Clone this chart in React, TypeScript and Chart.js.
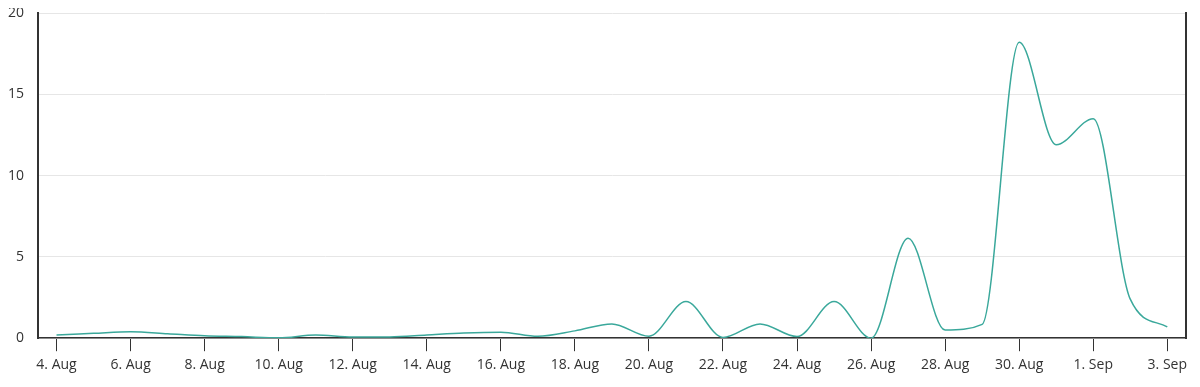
import React, { useEffect, useRef } from "react";
import { Chart, registerables } from "chart.js";

Chart.register(...registerables);

const categories = [
  "4. Aug", "5. Aug", "6. Aug", "7. Aug", "8. Aug", "9. Aug", "10. Aug", "11. Aug",
  "12. Aug", "13. Aug", "14. Aug", "15. Aug", "16. Aug", "17. Aug", "18. Aug", "19. Aug",
  "20. Aug", "21. Aug", "22. Aug", "23. Aug", "24. Aug", "25. Aug", "26. Aug", "27. Aug",
  "28. Aug", "29. Aug", "30. Aug", "31. Aug", "1. Sep", "2. Sep", "3. Sep",
];

const values = [
  0.2, 0.3, 0.4, 0.28, 0.15, 0.1, 0.02, 0.2,
  0.08, 0.08, 0.2, 0.32, 0.37, 0.12, 0.45, 0.88,
  0.12, 2.25, 0.05, 0.88, 0.1, 2.25, 0.0, 6.15,
  0.5, 0.85, 18.2, 11.9, 13.5, 2.4, 0.7,
];

const yTicks = [0, 5, 10, 15, 20];

const FONT = "'Open Sans', sans-serif";

export default function App() {
  const ref = useRef<HTMLCanvasElement | null>(null);

  useEffect(() => {
    if (!ref.current) return;
    const chart = new Chart(ref.current, {
      type: "line",
      data: {
        labels: categories,
        datasets: [
          {
            data: values,
            borderColor: "#3aa89b",
            borderWidth: 1.5,
            pointRadius: 0,
            cubicInterpolationMode: "monotone",
            fill: false,
          },
        ],
      },
      options: {
        animation: false,
        responsive: true,
        maintainAspectRatio: false,
        layout: { padding: { top: 0, right: 0, left: 0, bottom: 0 } },
        plugins: { legend: { display: false }, tooltip: { enabled: false } },
        scales: {
          x: {
            type: "category",
            offset: true,
            grid: {
              offset: false,
              drawOnChartArea: false,
              drawTicks: true,
              tickLength: 13,
              tickColor: (ctx: any) => (ctx.index % 2 === 0 ? "#333333" : "rgba(0,0,0,0)"),
            },
            border: { color: "#333333", width: 1.5 },
            ticks: {
              autoSkip: false,
              maxRotation: 0,
              color: "#333333",
              font: { family: FONT, size: 14 },
              padding: 5,
              callback: (_v: any, i: number) => (i % 2 === 0 ? categories[i] : ""),
            },
          },
          y: {
            min: 0,
            max: 20,
            afterBuildTicks: (axis: any) => {
              axis.ticks = yTicks.map((v) => ({ value: v }));
            },
            afterFit: (axis: any) => {
              axis.width = 30;
              axis.paddingTop = 5;
              axis.paddingBottom = 9;
            },
            grid: { color: "#e6e6e6", drawTicks: false },
            border: { color: "#333333", width: 2 },
            ticks: {
              color: "#333333",
              font: { family: FONT, size: 14 },
              padding: 14,
            },
          },
          y2: {
            position: "right",
            min: 0,
            max: 20,
            grid: { drawOnChartArea: false, drawTicks: false },
            border: { color: "#333333", width: 2 },
            ticks: { display: false },
          },
        },
      },
    });
    return () => chart.destroy();
  }, []);

  return (
    <div style={{ width: "100%", height: 370, position: "relative" }}>
      <canvas ref={ref} />
    </div>
  );
}
